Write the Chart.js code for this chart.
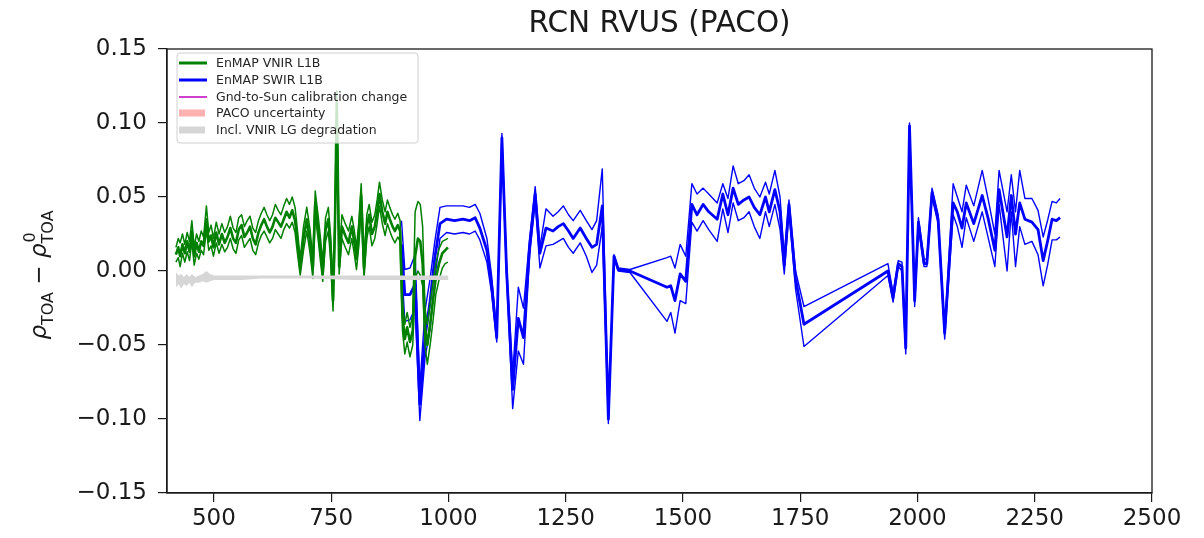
<!DOCTYPE html>
<html>
<head>
<meta charset="utf-8">
<title>RCN RVUS (PACO)</title>
<script src="https://cdn.jsdelivr.net/npm/chart.js@4.4.1/dist/chart.umd.min.js"></script>
<style>
  html, body { margin: 0; padding: 0; background: #fff; }
  canvas { display: block; }
</style>
</head>
<body>
<canvas id="chart" width="1204" height="538"></canvas>
<script>
// Chart title and legend texts
const chartTitle = "RCN RVUS (PACO)";
const legendLabels = [
  "EnMAP VNIR L1B",
  "EnMAP SWIR L1B",
  "Gnd-to-Sun calibration change",
  "PACO uncertainty",
  "Incl. VNIR LG degradation"
];

// Axis ticks
const xTicks = [500, 750, 1000, 1250, 1500, 1750, 2000, 2250, 2500];
const yTicks = [-0.15, -0.10, -0.05, 0.00, 0.05, 0.10, 0.15];

// VNIR wavelengths (nm) and differences (centre, upper, lower)
const vnirWavelengths = [
  419, 424, 428, 433, 438, 443, 448, 453, 458, 463,
  468, 473, 478, 484, 489, 494, 499, 505, 511, 517,
  523, 529, 535, 541, 547, 553, 559, 565, 571, 577,
  583, 589, 595, 601, 607, 613, 619, 625, 631, 637,
  643, 649, 655, 661, 667, 673, 678, 684, 691, 698,
  705, 711, 716, 722, 727, 732, 738, 744, 749, 754,
  758, 762, 767, 773, 780, 787, 794, 799, 804, 809,
  814, 820, 826, 831, 837, 843, 848, 853, 859, 865,
  870, 875, 881, 886, 892, 897, 902, 907, 912, 918,
  924, 929, 935, 940, 945, 950, 955, 961, 967, 973,
  980, 987, 993, 999
];
const vnirCenter = [
  0.011, 0.016, 0.010, 0.018, 0.012, 0.020, 0.013, 0.027, 0.010, 0.019,
  0.013, 0.020, 0.017, 0.035, 0.020, 0.024, 0.016, 0.026, 0.018, 0.025,
  0.019, 0.023, 0.029, 0.022, 0.019, 0.028, 0.031, 0.023, 0.026, 0.030,
  0.022, 0.018, 0.026, 0.031, 0.035, 0.030, 0.026, 0.030, 0.036, 0.033,
  0.030, 0.035, 0.040, 0.036, 0.041, 0.034, 0.020, 0.002, 0.022, 0.035,
  0.020, 0.002, 0.046, 0.030, 0.015, -0.001, 0.028, 0.035, 0.015, -0.020,
  0.030, 0.114, 0.003, 0.030, 0.024, 0.019, 0.030, 0.020, 0.008, 0.025,
  0.051, 0.002, 0.030, 0.038, 0.025, 0.030, 0.040, 0.052, 0.040, 0.032,
  0.040, 0.035, 0.030, 0.027, 0.031, 0.027, -0.030, -0.046, -0.038, -0.048,
  -0.040, 0.010, 0.022, 0.020, 0.005, -0.038, -0.050, -0.036, -0.020, -0.005,
  0.005, 0.012, 0.014, 0.016
];
const vnirUpper = [
  0.016, 0.022, 0.019, 0.025, 0.018, 0.026, 0.020, 0.034, 0.016, 0.025,
  0.020, 0.027, 0.023, 0.044, 0.026, 0.031, 0.022, 0.033, 0.025, 0.032,
  0.026, 0.030, 0.037, 0.029, 0.026, 0.036, 0.038, 0.030, 0.034, 0.037,
  0.029, 0.026, 0.034, 0.039, 0.043, 0.038, 0.034, 0.038, 0.045, 0.041,
  0.038, 0.044, 0.049, 0.045, 0.050, 0.043, 0.028, 0.008, 0.030, 0.043,
  0.028, 0.008, 0.054, 0.038, 0.023, 0.006, 0.036, 0.043, 0.023, -0.013,
  0.038, 0.122, 0.010, 0.038, 0.032, 0.027, 0.037, 0.028, 0.016, 0.033,
  0.059, 0.009, 0.038, 0.045, 0.033, 0.038, 0.048, 0.060, 0.048, 0.040,
  0.048, 0.043, 0.038, 0.035, 0.039, 0.034, -0.020, -0.036, -0.028, -0.038,
  -0.030, 0.040, 0.047, 0.045, 0.030, -0.025, -0.036, -0.022, -0.008, 0.005,
  0.015, 0.020, 0.021, 0.022
];
const vnirLower = [
  0.006, 0.009, 0.003, 0.012, 0.006, 0.013, 0.007, 0.020, 0.004, 0.012,
  0.008, 0.014, 0.011, 0.028, 0.014, 0.017, 0.010, 0.019, 0.012, 0.018,
  0.013, 0.016, 0.022, 0.015, 0.012, 0.021, 0.024, 0.016, 0.019, 0.022,
  0.014, 0.011, 0.019, 0.024, 0.027, 0.023, 0.019, 0.022, 0.028, 0.025,
  0.022, 0.028, 0.032, 0.029, 0.033, 0.026, 0.012, -0.003, 0.014, 0.027,
  0.012, -0.005, 0.038, 0.022, 0.007, -0.007, 0.020, 0.027, 0.007, -0.027,
  0.022, 0.105, -0.002, 0.022, 0.016, 0.011, 0.022, 0.012, 0.001, 0.017,
  0.043, -0.005, 0.022, 0.030, 0.017, 0.022, 0.032, 0.044, 0.032, 0.024,
  0.032, 0.027, 0.022, 0.019, 0.023, 0.020, -0.040, -0.056, -0.048, -0.058,
  -0.050, -0.005, 0.000, -0.003, -0.010, -0.050, -0.063, -0.050, -0.034, -0.016,
  -0.006, 0.002, 0.005, 0.006
];

// SWIR wavelengths (nm) and differences (centre, upper, lower)
const swirWavelengths = [
  900, 907, 918, 929, 939, 950, 961, 971, 982, 996,
  1013, 1031, 1045, 1057, 1067, 1082, 1092, 1103, 1114, 1124,
  1137, 1149, 1160, 1173, 1185, 1195, 1208, 1223, 1234, 1245,
  1256, 1266, 1281, 1294, 1306, 1316, 1328, 1341, 1353, 1362,
  1387, 1466, 1474, 1483, 1494, 1506, 1519, 1530, 1543, 1555,
  1573, 1585, 1596, 1607, 1618, 1630, 1641, 1652, 1664, 1676,
  1684, 1696, 1707, 1716, 1726, 1740, 1758, 1937, 1948, 1959,
  1967, 1975, 1983, 1994, 2002, 2014, 2020, 2031, 2044, 2058,
  2076, 2085, 2095, 2104, 2120, 2138, 2151, 2165, 2174, 2191,
  2200, 2209, 2218, 2229, 2244, 2257, 2268, 2278, 2287, 2296,
  2304
];
const swirCenter = [
  0.018, -0.016, -0.016, -0.009, -0.090, -0.045, -0.020, 0.009, 0.032, 0.035,
  0.034, 0.035, 0.034, 0.036, 0.029, 0.014, -0.009, -0.045, 0.090, 0.000,
  -0.080, -0.032, -0.045, 0.016, 0.052, 0.012, 0.029, 0.027, 0.030, 0.032,
  0.027, 0.022, 0.029, 0.022, 0.016, 0.018, 0.044, -0.100, 0.010, 0.001,
  0.000, -0.011, -0.010, -0.020, -0.002, -0.007, 0.045, 0.038, 0.045, 0.040,
  0.035, 0.052, 0.038, 0.056, 0.045, 0.048, 0.050, 0.043, 0.038, 0.050,
  0.040, 0.055, 0.040, 0.004, 0.045, -0.005, -0.036, 0.000, -0.018, 0.005,
  0.003, -0.052, 0.098, -0.020, 0.033, 0.005, 0.005, 0.053, 0.035, -0.042,
  0.046, 0.040, 0.029, 0.046, 0.032, 0.051, 0.035, 0.014, 0.055, 0.023,
  0.051, 0.025, 0.046, 0.035, 0.033, 0.028, 0.007, 0.021, 0.035, 0.034,
  0.036
];
const swirUpper = [
  0.034, 0.001, 0.002, 0.011, -0.078, -0.027, -0.005, 0.020, 0.043, 0.044,
  0.044, 0.044, 0.043, 0.045, 0.039, 0.022, -0.003, -0.042, 0.093, 0.004,
  -0.070, -0.011, -0.025, 0.022, 0.057, 0.016, 0.042, 0.037, 0.040, 0.044,
  0.038, 0.034, 0.041, 0.034, 0.028, 0.034, 0.069, -0.098, 0.011, 0.002,
  0.001, 0.009, 0.010, 0.002, 0.018, 0.010, 0.059, 0.052, 0.056, 0.052,
  0.046, 0.059, 0.049, 0.071, 0.059, 0.061, 0.065, 0.056, 0.050, 0.060,
  0.052, 0.068, 0.050, 0.010, 0.048, 0.000, -0.024, 0.005, -0.015, 0.007,
  0.006, -0.048, 0.100, -0.017, 0.036, 0.008, 0.008, 0.056, 0.038, -0.040,
  0.059, 0.050, 0.040, 0.058, 0.044, 0.068, 0.048, 0.025, 0.068, 0.040,
  0.065, 0.040, 0.068, 0.049, 0.049, 0.041, 0.023, 0.035, 0.047, 0.046,
  0.049
];
const swirLower = [
  0.005, -0.034, -0.033, -0.025, -0.101, -0.059, -0.039, -0.005, 0.022, 0.026,
  0.025, 0.026, 0.025, 0.027, 0.021, 0.006, -0.015, -0.048, 0.086, -0.004,
  -0.093, -0.054, -0.063, 0.010, 0.047, 0.002, 0.017, 0.018, 0.020, 0.022,
  0.016, 0.012, 0.019, 0.010, -0.001, 0.004, 0.030, -0.103, 0.009, 0.000,
  -0.001, -0.034, -0.028, -0.042, -0.020, -0.022, 0.033, 0.027, 0.034, 0.028,
  0.020, 0.042, 0.026, 0.046, 0.034, 0.036, 0.040, 0.030, 0.022, 0.040,
  0.030, 0.045, 0.028, -0.002, 0.040, -0.012, -0.051, -0.003, -0.021, 0.003,
  0.000, -0.056, 0.095, -0.024, 0.030, 0.003, 0.003, 0.050, 0.032, -0.046,
  0.038, 0.030, 0.016, 0.036, 0.020, 0.040, 0.022, 0.003, 0.045, 0.000,
  0.040, 0.003, 0.030, 0.018, 0.020, 0.011, -0.010, 0.005, 0.021, 0.021,
  0.023
];

// VNIR LG degradation band (top and bottom)
const degWavelengths = [419, 425, 430, 436, 442, 448, 453, 460, 468, 476, 484, 492, 500, 520, 560, 600, 700, 800, 900, 1000];
const degTop = [-0.001, -0.003, -0.002, -0.004, -0.002, -0.004, -0.002, -0.004, -0.003, -0.002, 0.000, -0.002, -0.003, -0.003, -0.003, -0.003, -0.003, -0.003, -0.003, -0.003];
const degBottom = [-0.011, -0.009, -0.012, -0.009, -0.010, -0.008, -0.011, -0.008, -0.008, -0.007, -0.008, -0.007, -0.006, -0.006, -0.006, -0.005, -0.005, -0.006, -0.006, -0.006];

// Colours
const vnirColor = "#008000";
const swirColor = "#0000ff";
const calibColor = "#bf00bf";
const pacoColor = "#ffb0b0";
const degColor = "#d6d6d6";
const inkColor = "#1a1a1a";

// Joins x and y arrays into {x, y} points
function toPoints(xs, ys) {
  return xs.map((x, i) => ({ x: x, y: ys[i] }));
}

// Builds a plain line dataset
function lineSet(xs, ys, color, width) {
  return {
    data: toPoints(xs, ys),
    borderColor: color,
    borderWidth: width,
    pointRadius: 0,
    tension: 0,
    fill: false,
    borderJoinStyle: "round"
  };
}

// Title above the plot
const titlePlugin = {
  id: "plotTitle",
  afterDraw(chart) {
    const ctx = chart.ctx;
    const area = chart.chartArea;
    ctx.save();
    ctx.font = '29.5px "DejaVu Sans"';
    ctx.fillStyle = inkColor;
    ctx.textAlign = "center";
    ctx.textBaseline = "alphabetic";
    ctx.fillText(chartTitle, (area.left + area.right) / 2, 32);
    ctx.restore();
  }
};

// Y axis label with sub and superscripts
const yLabelPlugin = {
  id: "yLabel",
  afterDraw(chart) {
    const ctx = chart.ctx;
    const big = '23px "DejaVu Sans"';
    const bigItalic = 'italic 23px "DejaVu Sans"';
    const small = '16px "DejaVu Sans"';
    ctx.save();
    ctx.font = bigItalic;
    const wRho = ctx.measureText("\u03c1").width;
    ctx.font = small;
    const wToa = ctx.measureText("TOA").width;
    const wZero = ctx.measureText("0").width;
    ctx.font = big;
    const wMinus = ctx.measureText(" \u2212 ").width;
    const total = wRho + wToa + wMinus + wRho + Math.max(wToa, wZero);

    ctx.translate(46, 275);
    ctx.rotate(-Math.PI / 2);
    ctx.fillStyle = inkColor;
    ctx.textBaseline = "alphabetic";
    let x = -total / 2;
    ctx.font = bigItalic;
    ctx.fillText("\u03c1", x, 0);
    x += wRho;
    ctx.font = small;
    ctx.fillText("TOA", x, 7);
    x += wToa;
    ctx.font = big;
    ctx.fillText(" \u2212 ", x, 0);
    x += wMinus;
    ctx.font = bigItalic;
    ctx.fillText("\u03c1", x, 0);
    x += wRho;
    ctx.font = small;
    ctx.fillText("0", x + 1, -11);
    ctx.fillText("TOA", x, 7);
    ctx.restore();
  }
};

// Legend box in the upper left corner
const legendPlugin = {
  id: "boxLegend",
  afterDatasetsDraw(chart) {
    const ctx = chart.ctx;
    const left = 177, top = 53, right = 418, bottom = 143, r = 3;
    ctx.save();
    ctx.beginPath();
    ctx.moveTo(left + r, top);
    ctx.lineTo(right - r, top);
    ctx.arcTo(right, top, right, top + r, r);
    ctx.lineTo(right, bottom - r);
    ctx.arcTo(right, bottom, right - r, bottom, r);
    ctx.lineTo(left + r, bottom);
    ctx.arcTo(left, bottom, left, bottom - r, r);
    ctx.lineTo(left, top + r);
    ctx.arcTo(left, top, left + r, top, r);
    ctx.closePath();
    ctx.fillStyle = "rgba(255,255,255,0.8)";
    ctx.fill();
    ctx.strokeStyle = "#d0d0d0";
    ctx.lineWidth = 1;
    ctx.stroke();

    const rows = [63, 80, 97, 113, 130];
    const hx0 = 179, hx1 = 207;
    // line handles
    ctx.lineCap = "butt";
    ctx.strokeStyle = vnirColor;
    ctx.lineWidth = 3;
    ctx.beginPath(); ctx.moveTo(hx0, rows[0]); ctx.lineTo(hx1, rows[0]); ctx.stroke();
    ctx.strokeStyle = swirColor;
    ctx.beginPath(); ctx.moveTo(hx0, rows[1]); ctx.lineTo(hx1, rows[1]); ctx.stroke();
    ctx.strokeStyle = calibColor;
    ctx.lineWidth = 1.5;
    ctx.beginPath(); ctx.moveTo(hx0, rows[2]); ctx.lineTo(hx1, rows[2]); ctx.stroke();
    // patch handles
    ctx.fillStyle = pacoColor;
    ctx.fillRect(hx0, rows[3] - 3.5, hx1 - hx0 - 2, 7);
    ctx.fillStyle = degColor;
    ctx.fillRect(hx0, rows[4] - 3.5, hx1 - hx0 - 2, 7);

    // texts
    ctx.font = '12.5px "DejaVu Sans"';
    ctx.fillStyle = "#262626";
    ctx.textAlign = "left";
    ctx.textBaseline = "middle";
    legendLabels.forEach((label, i) => ctx.fillText(label, 216, rows[i] + 1));
    ctx.restore();
  }
};

// Top and right frame lines
const framePlugin = {
  id: "frame",
  afterDraw(chart) {
    const ctx = chart.ctx;
    const a = chart.chartArea;
    ctx.save();
    ctx.strokeStyle = inkColor;
    ctx.lineWidth = 1.3;
    ctx.strokeRect(a.left, a.top, a.right - a.left, a.bottom - a.top);
    ctx.restore();
  }
};

const tickFont = { family: "DejaVu Sans", size: 23 };

const degLow = lineSet(degWavelengths, degBottom, degColor, 0);
const degHigh = lineSet(degWavelengths, degTop, degColor, 0);
degHigh.fill = "-1";
degHigh.backgroundColor = degColor;

new Chart(document.getElementById("chart"), {
  type: "line",
  data: {
    datasets: [
      degLow,
      degHigh,
      lineSet(vnirWavelengths, vnirLower, vnirColor, 1.5),
      lineSet(vnirWavelengths, vnirUpper, vnirColor, 1.5),
      lineSet(vnirWavelengths, vnirCenter, vnirColor, 2.6),
      lineSet(swirWavelengths, swirLower, swirColor, 1.4),
      lineSet(swirWavelengths, swirUpper, swirColor, 1.4),
      lineSet(swirWavelengths, swirCenter, swirColor, 2.8)
    ]
  },
  options: {
    responsive: false,
    animation: false,
    devicePixelRatio: 1,
    layout: { padding: { top: 49, right: 52, left: 0, bottom: 0 } },
    plugins: {
      legend: { display: false },
      tooltip: { enabled: false },
      title: { display: false }
    },
    scales: {
      x: {
        type: "linear",
        min: 400,
        max: 2500,
        afterBuildTicks: (scale) => { scale.ticks = xTicks.map(v => ({ value: v })); },
        afterFit: (scale) => { scale.height = 45; },
        ticks: {
          font: tickFont,
          color: inkColor,
          padding: 3,
          maxRotation: 0,
          autoSkip: false,
          callback: (v) => String(v)
        },
        grid: { drawOnChartArea: false, drawTicks: true, tickLength: 9, color: inkColor, lineWidth: 1.2 },
        border: { display: true, color: inkColor, width: 1.3 }
      },
      y: {
        type: "linear",
        min: -0.15,
        max: 0.15,
        afterBuildTicks: (scale) => { scale.ticks = yTicks.map(v => ({ value: v })); },
        afterFit: (scale) => { scale.width = 167; },
        ticks: {
          font: tickFont,
          color: inkColor,
          padding: 11,
          autoSkip: false,
          callback: (v) => (v < -1e-9 ? "\u2212" : "") + Math.abs(v).toFixed(2)
        },
        grid: { drawOnChartArea: false, drawTicks: true, tickLength: 9, color: inkColor, lineWidth: 1.2 },
        border: { display: true, color: inkColor, width: 1.3 }
      }
    }
  },
  plugins: [legendPlugin, titlePlugin, yLabelPlugin, framePlugin]
});
</script>
</body>
</html>
